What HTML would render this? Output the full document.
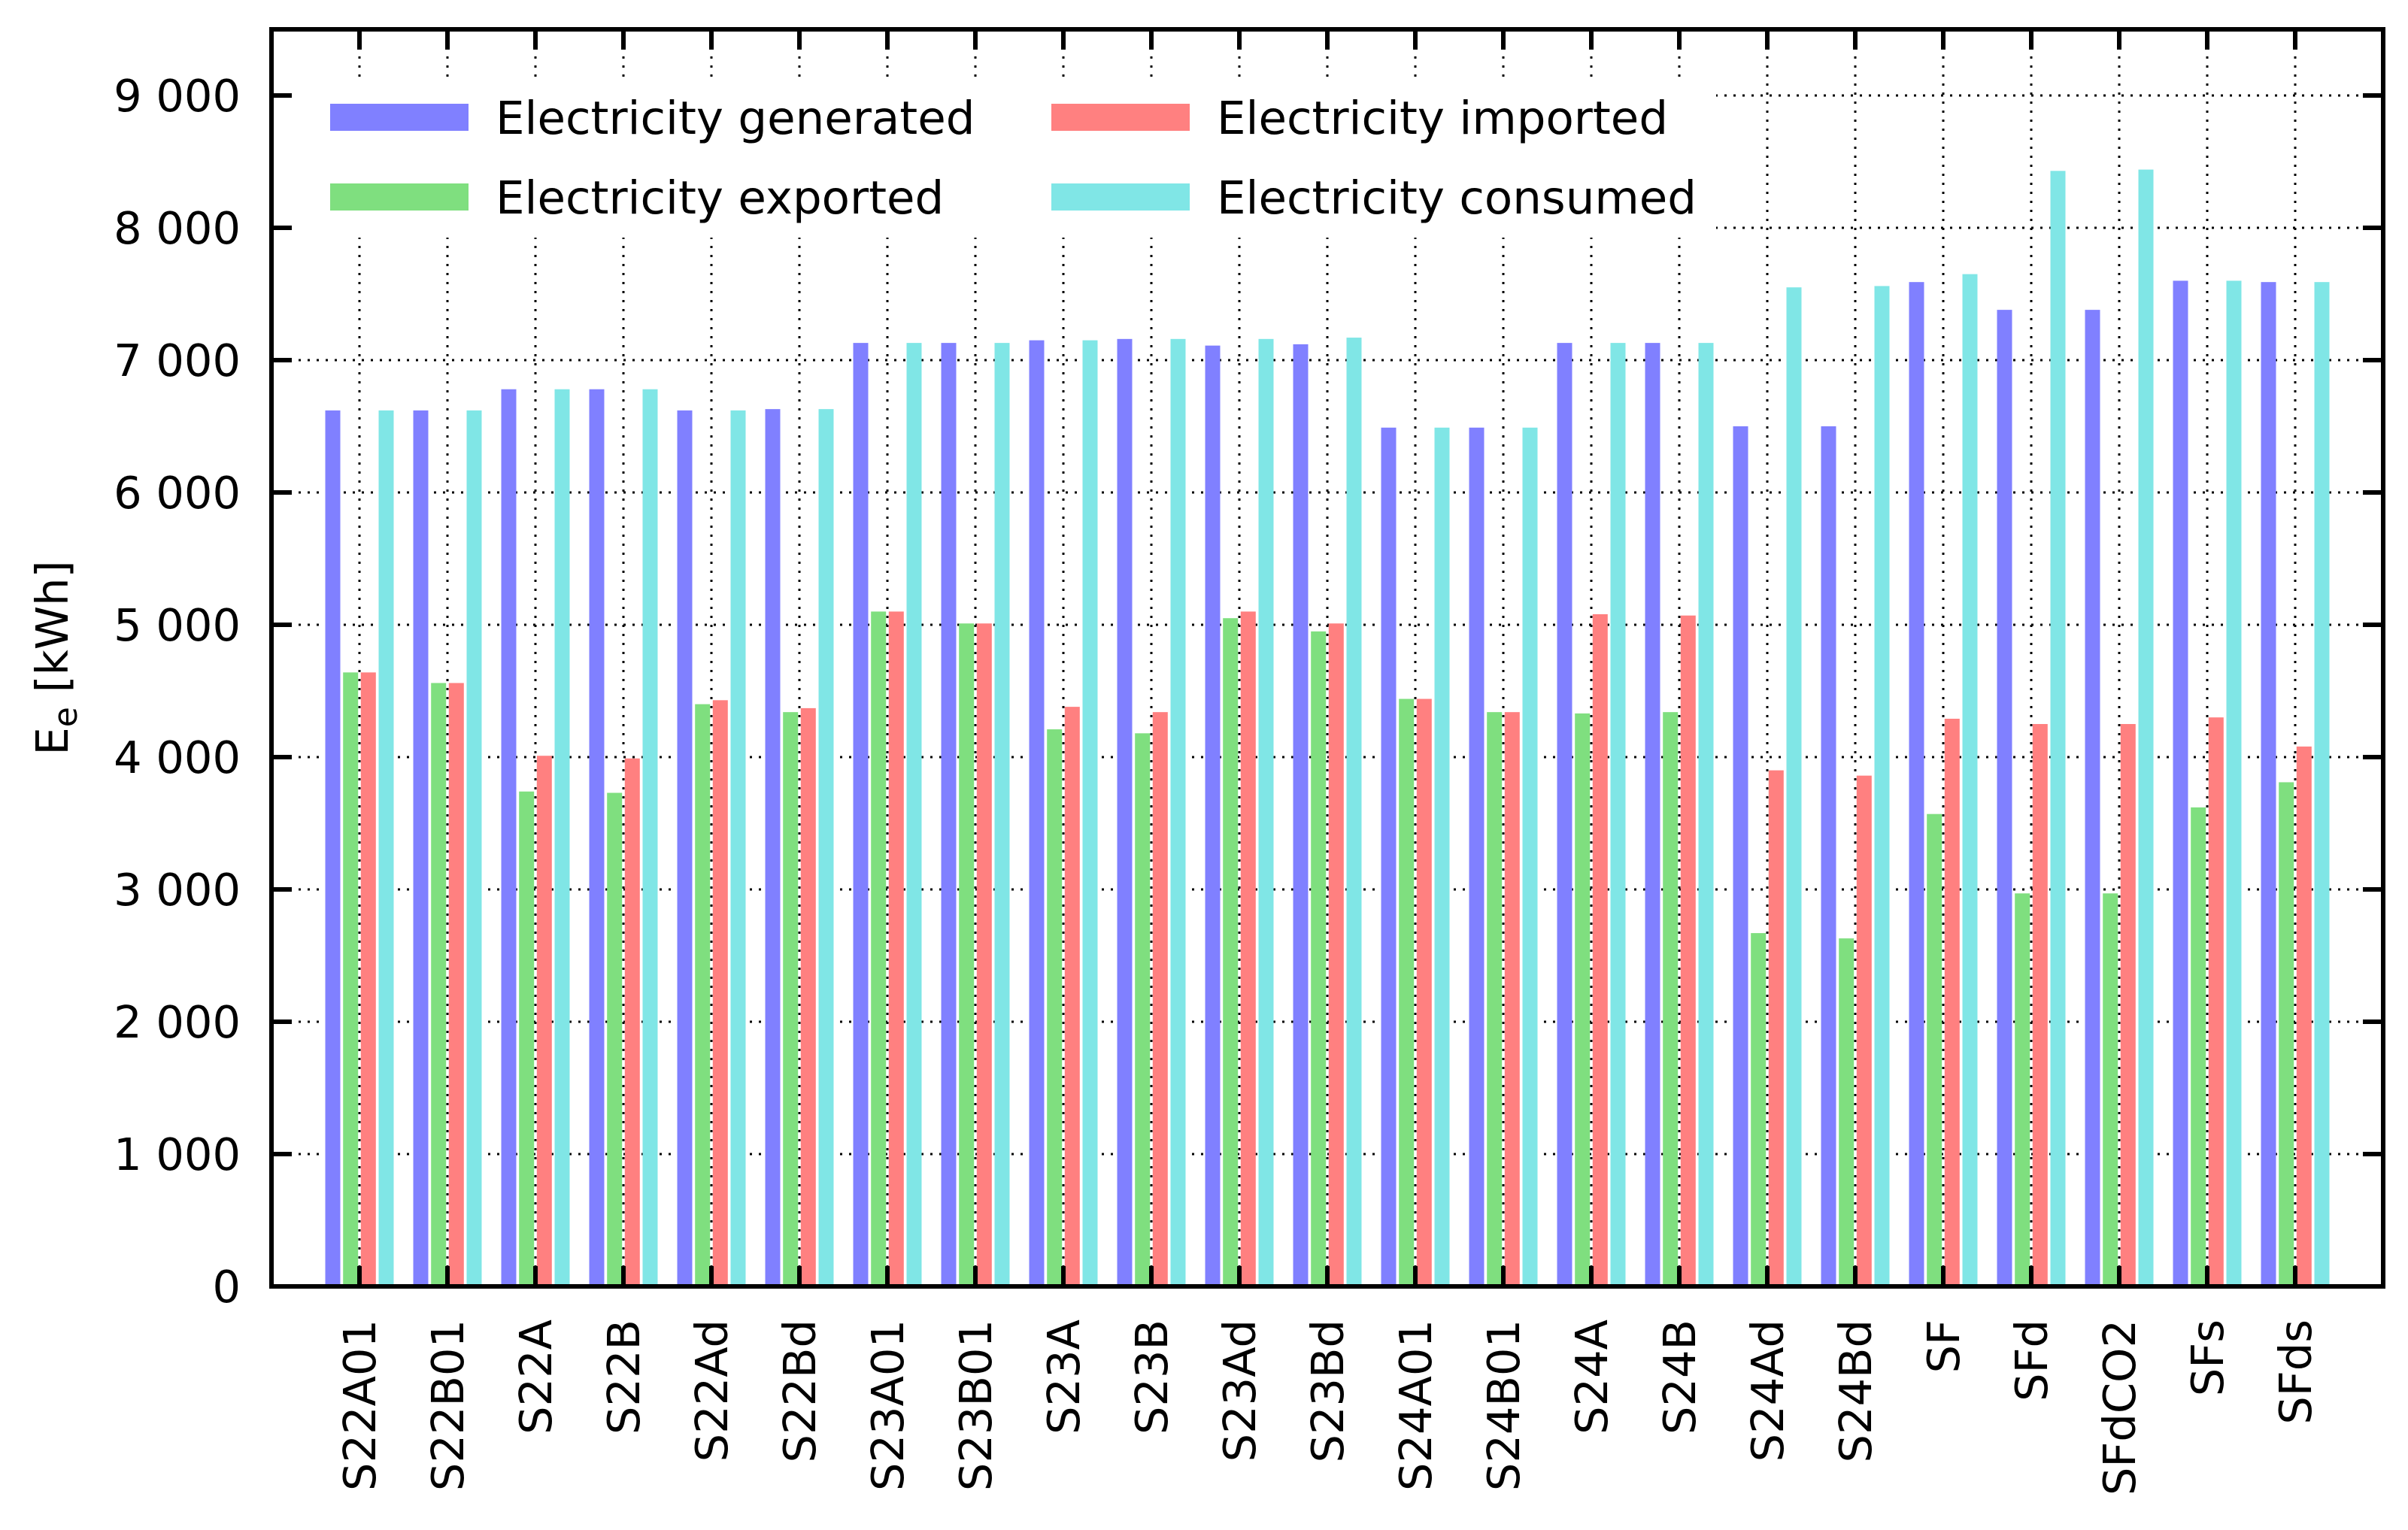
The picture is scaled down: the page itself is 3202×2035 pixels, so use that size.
<!DOCTYPE html>
<html><head><meta charset="utf-8"><style>
html,body{margin:0;padding:0;background:#fff;}
svg{display:block;font-family:"DejaVu Sans","Liberation Sans",sans-serif;}
</style></head><body>
<svg id="chart" width="3202" height="2035" viewBox="0 0 3202 2035" xmlns="http://www.w3.org/2000/svg"></svg>
<script>
const categories = ["S22A01","S22B01","S22A","S22B","S22Ad","S22Bd","S23A01","S23B01","S23A","S23B","S23Ad","S23Bd","S24A01","S24B01","S24A","S24B","S24Ad","S24Bd","SF","SFd","SFdCO2","SFs","SFds"];
const generated = [6620,6620,6780,6780,6620,6630,7130,7130,7150,7160,7110,7120,6490,6490,7130,7130,6500,6500,7590,7380,7380,7600,7590];
const exported  = [4640,4560,3740,3730,4400,4340,5100,5010,4210,4180,5050,4950,4440,4340,4330,4340,2670,2630,3570,2970,2970,3620,3810];
const imported  = [4640,4560,4010,3990,4430,4370,5100,5010,4380,4340,5100,5010,4440,4340,5080,5070,3900,3860,4290,4250,4250,4300,4080];
const consumed  = [6620,6620,6780,6780,6620,6630,7130,7130,7150,7160,7160,7170,6490,6490,7130,7130,7550,7560,7650,8430,8440,7600,7590];
const yTicks = [0,1000,2000,3000,4000,5000,6000,7000,8000,9000];
const yTickLabels = ["0","1 000","2 000","3 000","4 000","5 000","6 000","7 000","8 000","9 000"];
const seriesNames = ["Electricity generated","Electricity imported","Electricity exported","Electricity consumed"];

const NS="http://www.w3.org/2000/svg";
const svg=document.getElementById('chart');
const L=361,R=3169,T=39,B=1711;
function y(v){return B - v*(B-127)/9000;}
const slot=(R-L)/(categories.length+1);
function x(i){return L+slot*(i+1);}
function mk(tag,attrs,parent){const e=document.createElementNS(NS,tag);for(const k in attrs)e.setAttribute(k,attrs[k]);(parent||svg).appendChild(e);return e;}

const grid=mk('g',{});


yTicks.forEach((v,i)=>{ if(i>0){const l=mk('line',{x1:L,x2:R,y1:y(v),y2:y(v),stroke:'#000','stroke-width':3,'stroke-dasharray':'3 9'},grid);
 
 }});
categories.forEach((c,i)=>{const l=mk('line',{x1:x(i),x2:x(i),y1:T,y2:B,stroke:'#000','stroke-width':3,'stroke-dasharray':'3 9'},grid);
 
 });

const colors=['#8080ff','#7fdf7f','#ff8080','#80e6e6'];
const order=[generated,exported,imported,consumed];
const offs=[-35.5,-11.8,11.8,35.5];
const bw=20;
const barsG=mk('g',{});


const bnames=['bar-generated','bar-exported','bar-imported','bar-consumed'];
categories.forEach((c,i)=>{order.forEach((arr,s)=>{
 const r=mk('rect',{x:x(i)+offs[s]-bw/2,y:y(arr[i]),width:bw,height:B-y(arr[i]),fill:colors[s]},barsG);
 
 
});});

const lg=mk('g',{});


mk('rect',{x:L+2,y:103,width:2280-L,height:213,fill:'#fff'},lg);
const legPos=[[439,138],[1398,138],[439,244],[1398,244]];
const legColors=['#8080ff','#ff8080','#7fdf7f','#80e6e6'];
seriesNames.forEach((n,i)=>{
 const [lx,ly]=legPos[i];
 const sw=mk('rect',{x:lx,y:ly,width:184,height:36,fill:legColors[i]},lg);
 
 
 const t=mk('text',{x:lx+220,y:ly+40,'font-size':61},lg);
 t.textContent=n;
 
 
});

const ax=mk('g',{stroke:'#000','stroke-width':6});


yTicks.forEach(v=>{mk('line',{x1:L,x2:L+27,y1:y(v),y2:y(v)},ax);mk('line',{x1:R,x2:R-27,y1:y(v),y2:y(v)},ax);});
categories.forEach((c,i)=>{mk('line',{x1:x(i),x2:x(i),y1:B,y2:B-27},ax);mk('line',{x1:x(i),x2:x(i),y1:T,y2:T+27},ax);});
mk('rect',{x:L,y:T,width:R-L,height:B-T,fill:'none'},ax);

yTicks.forEach((v,i)=>{const t=mk('text',{x:320,y:y(v)+21,'text-anchor':'end','font-size':59});
 t.textContent=yTickLabels[i];
 
 });
categories.forEach((c,i)=>{const t=mk('text',{transform:`translate(${x(i)+21},1755) rotate(-90)`,'text-anchor':'end','font-size':59});
 t.textContent=c;
 
 });
const yt=mk('text',{transform:'translate(90,875) rotate(-90)','text-anchor':'middle','font-size':59});


yt.appendChild(document.createTextNode('E'));
const sub=mk('tspan',{'font-size':44,dy:12},yt);sub.textContent='e';
const rest=mk('tspan',{dy:-12},yt);rest.textContent=' [kWh]';
</script>
</body></html>
